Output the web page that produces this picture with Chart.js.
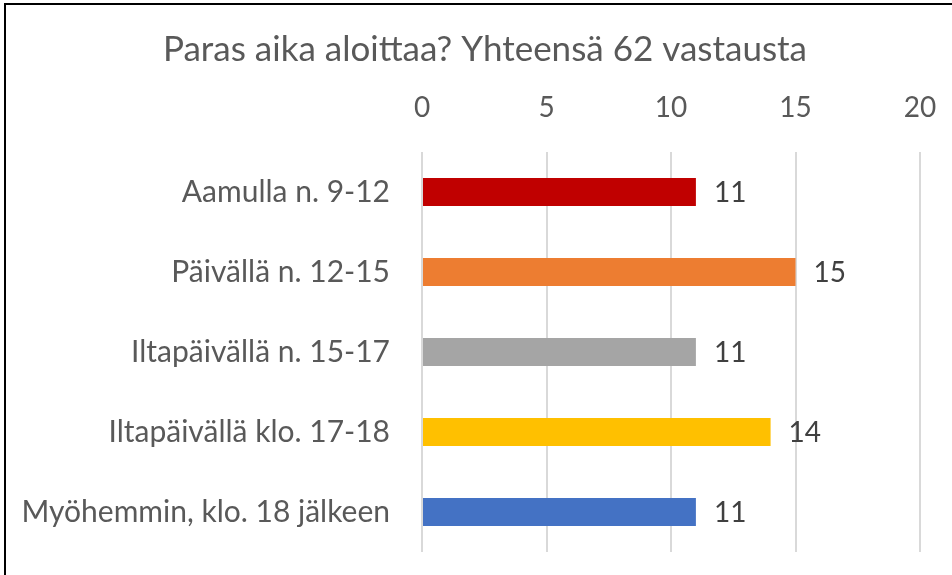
<!DOCTYPE html>
<html>
<head>
<meta charset="utf-8">
<script src="https://cdn.jsdelivr.net/npm/chart.js@4.4.1/dist/chart.umd.min.js"></script>
<style>
  html, body { margin: 0; padding: 0; background: #fff; }
  #wrap { position: relative; width: 952px; height: 575px; overflow: hidden; }
  #frame { position: absolute; left: 4px; top: 3px; width: 960px; height: 600px; border-left: 2px solid #000; border-top: 2px solid #000; pointer-events: none; }
</style>
</head>
<body>
<div id="wrap">
  <canvas id="c" width="952" height="575"></canvas>
  <div id="frame"></div>
</div>
<script>
const titleText = "Paras aika aloittaa? Yhteensä 62 vastausta";
const categories = ["Aamulla n. 9-12", "Päivällä n. 12-15", "Iltapäivällä n. 15-17", "Iltapäivällä klo. 17-18", "Myöhemmin, klo. 18 jälkeen"];
const values = [11, 15, 11, 14, 11];
const barColors = ["#C00000", "#ED7D31", "#A5A5A5", "#FFC000", "#4472C4"];
const tickValues = [0, 5, 10, 15, 20];

const FONT = "Lato, 'Open Sans', sans-serif";

const valueLabels = {
  id: 'valueLabels',
  afterDatasetsDraw(chart) {
    const ctx = chart.ctx;
    const meta = chart.getDatasetMeta(0);
    ctx.save();
    ctx.font = "28px " + FONT;
    ctx.fillStyle = "#404040";
    ctx.textAlign = "left";
    ctx.textBaseline = "middle";
    meta.data.forEach((bar, i) => {
      ctx.fillText(String(values[i]), bar.x + 18, bar.y + 1);
    });
    ctx.restore();
  }
};

const titleShift = {
  id: 'titleShift',
  afterLayout(chart) {
    if (chart.titleBlock) {
      chart.titleBlock.left = 18;
      chart.titleBlock.right = 952;
    }
  }
};

new Chart(document.getElementById('c'), {
  type: 'bar',
  data: {
    labels: categories,
    datasets: [{
      data: values,
      backgroundColor: barColors,
      borderWidth: 0,
      categoryPercentage: 1,
      barPercentage: 0.35
    }]
  },
  options: {
    indexAxis: 'y',
    responsive: false,
    animation: false,
    devicePixelRatio: 1,
    layout: { padding: { left: 0, right: 32, top: 0, bottom: 23 } },
    plugins: {
      legend: { display: false },
      tooltip: { enabled: false },
      title: {
        display: true,
        text: titleText,
        color: "#595959",
        font: { family: FONT, size: 35, weight: 'normal', lineHeight: 1.2 },
        padding: { top: 29, bottom: 0 }
      }
    },
    scales: {
      x: {
        position: 'top',
        min: 0, max: 20,
        afterBuildTicks(scale) { scale.ticks = tickValues.map(v => ({ value: v })); },
        afterFit(scale) {
          scale.height = 152 - (29 + 35 * 1.2);
          scale.paddingLeft = 0; scale.paddingRight = 0;
        },
        ticks: { color: "#595959", font: { family: FONT, size: 28 }, padding: 27, maxRotation: 0 },
        grid: { color: "#D9D9D9", lineWidth: 2, drawTicks: false },
        border: { display: false }
      },
      y: {
        afterFit(scale) {
          scale.width = 422;
          scale.paddingTop = 0; scale.paddingBottom = 0;
        },
        ticks: { color: "#595959", font: { family: FONT, size: 30 }, padding: 32 },
        grid: { display: false, drawTicks: false },
        border: { display: false }
      }
    }
  },
  plugins: [valueLabels, titleShift]
});
</script>
</body>
</html>
